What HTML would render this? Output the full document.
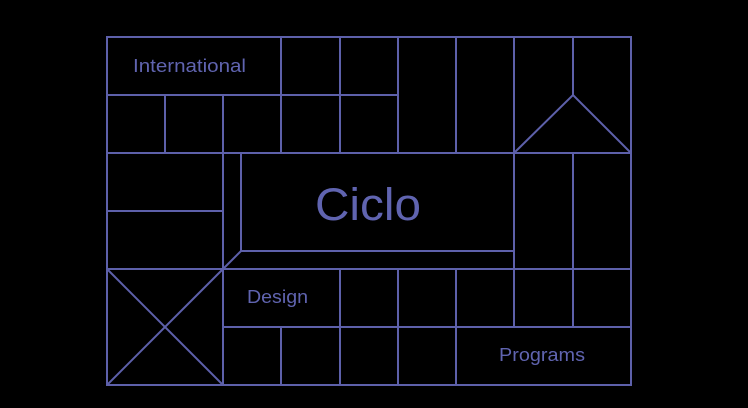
<!DOCTYPE html>
<html><head><style>
html,body{margin:0;padding:0;background:#000;width:748px;height:408px;overflow:hidden}
svg{display:block}
text{font-family:"Liberation Sans",sans-serif;fill:#6064b0}
</style></head><body>
<svg width="748" height="408" viewBox="0 0 748 408">
<g stroke="#5d60aa" stroke-width="2" fill="none">
<rect x="107" y="37" width="524" height="348"/>
<line x1="107" y1="95" x2="398" y2="95"/>
<line x1="107" y1="153" x2="631" y2="153"/>
<line x1="107" y1="211" x2="223" y2="211"/>
<line x1="107" y1="269" x2="631" y2="269"/>
<line x1="223" y1="327" x2="631" y2="327"/>
<line x1="241" y1="251" x2="514" y2="251"/>
<line x1="223" y1="269" x2="241" y2="251"/>
<line x1="281" y1="37" x2="281" y2="153"/>
<line x1="340" y1="37" x2="340" y2="153"/>
<line x1="398" y1="37" x2="398" y2="153"/>
<line x1="456" y1="37" x2="456" y2="153"/>
<line x1="514" y1="37" x2="514" y2="153"/>
<line x1="573" y1="37" x2="573" y2="95"/>
<line x1="165" y1="95" x2="165" y2="153"/>
<line x1="223" y1="95" x2="223" y2="385"/>
<line x1="241" y1="153" x2="241" y2="251"/>
<polyline points="514,153 573,95 631,153"/>
<line x1="514" y1="153" x2="514" y2="327"/>
<line x1="573" y1="153" x2="573" y2="327"/>
<line x1="340" y1="269" x2="340" y2="385"/>
<line x1="398" y1="269" x2="398" y2="385"/>
<line x1="456" y1="269" x2="456" y2="385"/>
<line x1="281" y1="327" x2="281" y2="385"/>
<line x1="107" y1="269" x2="223" y2="385"/>
<line x1="223" y1="269" x2="107" y2="385"/>
</g>
<text x="133" y="72" font-size="18" textLength="113" lengthAdjust="spacingAndGlyphs">International</text>
<text x="315" y="220" font-size="45" textLength="106" lengthAdjust="spacingAndGlyphs">Ciclo</text>
<text x="247" y="303" font-size="18" textLength="61" lengthAdjust="spacingAndGlyphs">Design</text>
<text x="499" y="361" font-size="18" textLength="86" lengthAdjust="spacingAndGlyphs">Programs</text>
</svg>
</body></html>
